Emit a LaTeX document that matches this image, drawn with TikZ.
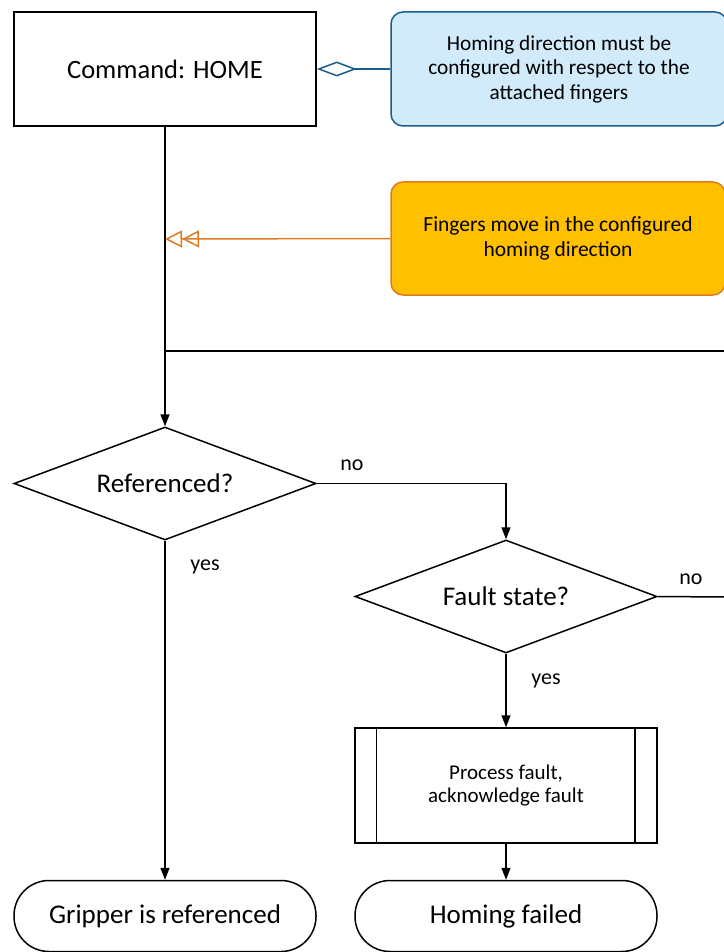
\documentclass[tikz,border=0pt]{standalone}
\usepackage{fontspec}
\setmainfont{Carlito}
\usetikzlibrary{arrows.meta,shapes.geometric}
\definecolor{noteblue}{HTML}{D2EBFB}
\definecolor{noteblueline}{HTML}{1C5C8A}
\definecolor{noteorange}{HTML}{FFC000}
\definecolor{noteorangeline}{HTML}{E07A22}
\begin{document}
\begin{tikzpicture}[x=1pt,y=-1pt,line width=1.5pt,
  box/.style={draw,minimum width=302pt,minimum height=114pt,inner sep=0pt,align=center},
  dia/.style={draw,diamond,minimum width=302pt,minimum height=113pt,inner sep=0pt},
  diatext/.style={inner sep=0pt,font=\fontsize{27}{30}\selectfont},
  term/.style={draw,rounded corners=35pt,minimum width=302pt,minimum height=71pt,inner sep=0pt,font=\fontsize{27}{30}\selectfont},
  noteb/.style={draw=noteblueline,fill=noteblue,rounded corners=12pt,minimum width=336pt,minimum height=114pt,align=center,inner sep=0pt,font=\fontsize{21.3}{24.5}\selectfont},
  noteo/.style={draw=noteorangeline,fill=noteorange,rounded corners=12pt,minimum width=334pt,minimum height=113pt,align=center,inner sep=0pt,font=\fontsize{21.5}{25}\selectfont},
  lbl/.style={font=\fontsize{22}{24}\selectfont,inner sep=0pt},
  arr/.style={-{Triangle[length=12pt,width=9pt]}}]
\useasboundingbox (0,0) rectangle (723,952);
\node[box,font=\fontsize{26.5}{30}\selectfont] (cmd) at (165,69) {Command: HOME};
\node[noteb] (n1) at (559,69) {Homing direction must be\\configured with respect to the\\attached fingers};
\node[noteo] (n2) at (558,238.5) {Fingers move in the configured\\homing direction};
\node[dia] (ref) at (165,483.5) {};
\node[diatext] (refT) at (ref.center) {Referenced?};
\node[dia] (fault) at (506,596.5) {};
\node[diatext] (faultT) at (fault.center) {Fault state?};
\node[box,minimum height=115pt,font=\fontsize{21}{23.5}\selectfont] (proc) at (506,785.5) {Process fault,\\acknowledge fault};
\node[term] (grip) at (165,916) {Gripper is referenced};
\node[term] (failed) at (506,916) {Homing failed};
\node[lbl] (no1) at (352,465) {no};
\node[lbl] (yes1) at (205,567) {yes};
\node[lbl] (no2) at (691,579) {no};
\node[lbl] (yes2) at (546,681) {yes};
\coordinate (m2) at (165,239);
\coordinate (j) at (165,351);
\coordinate (loopR) at (726,351);
\coordinate (faultR) at (726,597);
\draw[noteblueline,-{Diamond[open,length=40pt,width=15pt]}] (n1.west) -- (cmd.east);
\draw[noteorangeline,-{Triangle[open,length=17pt,width=17pt]Triangle[open,length=17pt,width=17pt]}] (n2.west) -- (m2);
\draw[arr] (cmd.south) -- (ref.north);
\draw (j) -- (loopR);
\draw[arr] (ref.east) -| (fault.north);
\draw (fault.east) -- (faultR);
\draw[arr] (fault.south) -- (proc.north);
\draw ([xshift=22pt]proc.north west) -- ([xshift=22pt]proc.south west);
\draw ([xshift=-23pt]proc.north east) -- ([xshift=-23pt]proc.south east);
\draw[arr] (proc.south) -- (failed.north);
\draw[arr] (ref.south) -- (grip.north);
\end{tikzpicture}
\end{document}
